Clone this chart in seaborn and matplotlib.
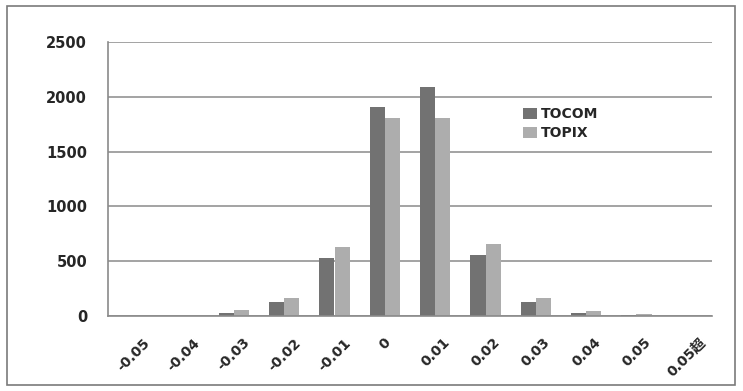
import numpy as np
import pandas as pd
import matplotlib
matplotlib.use("Agg")
import matplotlib.pyplot as plt
import seaborn as sns
from matplotlib.patches import Rectangle

sns.set_style("white")
plt.rcParams['font.family'] = ['DejaVu Sans', 'Noto Sans CJK JP']

bins = ['-0.05', '-0.04', '-0.03', '-0.02', '-0.01', '0', '0.01', '0.02', '0.03', '0.04', '0.05', '0.05超']
tocom = [0, 0, 25, 130, 526, 1910, 2090, 556, 130, 25, 5, 0]
topix = [0, 0, 55, 167, 627, 1810, 1810, 657, 167, 45, 15, 0]

df = pd.DataFrame({
    'bin': bins * 2,
    'count': tocom + topix,
    'series': ['TOCOM'] * len(bins) + ['TOPIX'] * len(bins),
})

fig = plt.figure(figsize=(7.43, 3.91), dpi=100)
ax = fig.add_axes([108 / 743, 75 / 391, 604 / 743, 274 / 391])
sns.barplot(data=df, x='bin', y='count', hue='series', order=bins,
            palette={'TOCOM': '#727272', 'TOPIX': '#adadad'},
            width=0.6, ax=ax, saturation=1, legend=True, linewidth=0)

ax.set_ylim(0, 2500)
ax.set_xlim(-0.5, len(bins) - 0.5)
ax.set_yticks(range(0, 2501, 500))
ax.yaxis.grid(True, color='#8a8a8a', linewidth=1.1)
ax.set_axisbelow(True)
ax.set_xlabel('')
ax.set_ylabel('')
for s in ['top', 'right']:
    ax.spines[s].set_visible(False)
for s in ['left', 'bottom']:
    ax.spines[s].set_color('#8a8a8a')
    ax.spines[s].set_linewidth(1.2)
ax.tick_params(axis='y', length=6, color='#8a8a8a', labelsize=10.5, pad=9)
ax.set_xticks(np.arange(-0.5, len(bins) + 0.5, 1), minor=True)
ax.tick_params(axis='x', which='major', length=0, labelsize=10, pad=14)
ax.tick_params(axis='x', which='minor', length=4, color='#8a8a8a')
for lbl in ax.get_yticklabels():
    lbl.set_fontweight('bold')
for lbl in ax.get_xticklabels():
    lbl.set_rotation(45)
    lbl.set_ha('center')
    lbl.set_va('top')
    lbl.set_fontweight('bold')

ax.legend(loc='upper left', bbox_to_anchor=(0.667, 0.807), frameon=False,
          handlelength=0.95, handleheight=0.8, handletextpad=0.3,
          labelspacing=0.35, prop={'weight': 'bold', 'size': 10})

fig.patches.append(Rectangle((7 / 743, 6 / 391), 728 / 743, 379 / 391,
                             transform=fig.transFigure, fill=False,
                             edgecolor='#7a7a7a', linewidth=1.2))

fig.savefig('out.png', dpi=100)
